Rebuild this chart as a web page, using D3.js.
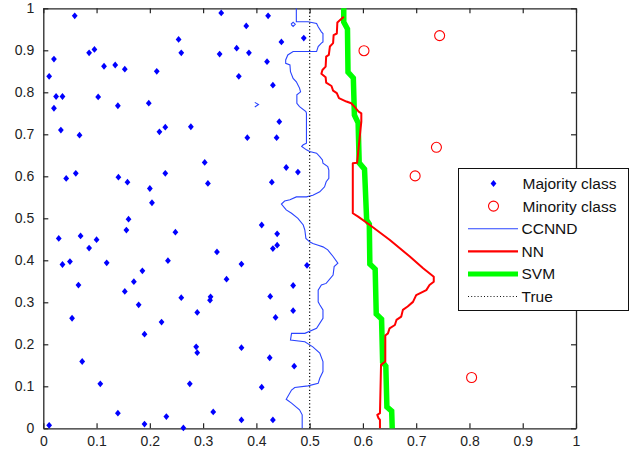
<!DOCTYPE html>
<html>
<head>
<meta charset="utf-8">
<script src="https://cdn.jsdelivr.net/npm/d3@7"></script>
<style>
  body { margin: 0; background: #fff; }
  svg { display: block; font-family: "Liberation Sans", Arial, sans-serif; }
</style>
</head>
<body>
<svg id="chart" width="644" height="451"></svg>
<script>
// majority class samples [x, y]
const majority = [
  [0.011, 0.838], [0.020, 0.879], [0.059, 0.982], [0.024, 0.790], [0.036, 0.790],
  [0.020, 0.762], [0.033, 0.710], [0.068, 0.698], [0.043, 0.595], [0.061, 0.607],
  [0.086, 0.894], [0.096, 0.902], [0.103, 0.789], [0.114, 0.862], [0.135, 0.865],
  [0.153, 0.855], [0.140, 0.768], [0.141, 0.598], [0.158, 0.586], [0.160, 0.498],
  [0.198, 0.774], [0.213, 0.850], [0.218, 0.706], [0.229, 0.717], [0.229, 0.607],
  [0.200, 0.571], [0.204, 0.537], [0.254, 0.926], [0.259, 0.894], [0.277, 0.718],
  [0.303, 0.633], [0.309, 0.583], [0.331, 0.891], [0.334, 0.989], [0.029, 0.452],
  [0.036, 0.390], [0.050, 0.397], [0.070, 0.458], [0.086, 0.429], [0.100, 0.449],
  [0.119, 0.394], [0.066, 0.341], [0.054, 0.262], [0.073, 0.159], [0.107, 0.106],
  [0.011, 0.007], [0.156, 0.472], [0.153, 0.326], [0.170, 0.349], [0.186, 0.375],
  [0.179, 0.294], [0.190, 0.224], [0.140, 0.036], [0.190, 0.010], [0.234, 0.399],
  [0.248, 0.467], [0.222, 0.253], [0.259, 0.311], [0.231, 0.028], [0.263, 0.001],
  [0.275, 0.106], [0.289, 0.276], [0.287, 0.194], [0.289, 0.180], [0.313, 0.305],
  [0.314, 0.313], [0.326, 0.420], [0.319, 0.039], [0.422, 0.982], [0.381, 0.958],
  [0.363, 0.905], [0.386, 0.894], [0.447, 0.920], [0.489, 0.929], [0.420, 0.873],
  [0.367, 0.838], [0.431, 0.817], [0.443, 0.730], [0.383, 0.692], [0.438, 0.692],
  [0.456, 0.621], [0.478, 0.610], [0.429, 0.586], [0.410, 0.484], [0.439, 0.463],
  [0.431, 0.428], [0.439, 0.436], [0.372, 0.391], [0.495, 0.388], [0.344, 0.355],
  [0.469, 0.340], [0.426, 0.314], [0.469, 0.280], [0.436, 0.264], [0.372, 0.192],
  [0.425, 0.168], [0.471, 0.148], [0.410, 0.098], [0.372, 0.020], [0.431, 0.020]
];

// minority class samples [x, y]
const minority = [
  [0.744, 0.935], [0.602, 0.899], [0.738, 0.669], [0.698, 0.601], [0.804, 0.121]
];

// CCNND decision boundary (top to bottom)
const ccnnd = [
  [0.475, 1.000], [0.475, 0.968], [0.497, 0.968], [0.513, 0.964], [0.516, 0.956],
  [0.522, 0.944], [0.525, 0.940], [0.525, 0.920], [0.522, 0.917], [0.516, 0.909],
  [0.513, 0.897], [0.469, 0.897], [0.459, 0.889], [0.455, 0.877], [0.455, 0.869],
  [0.463, 0.865], [0.464, 0.849], [0.469, 0.833], [0.475, 0.825], [0.481, 0.810],
  [0.483, 0.801], [0.476, 0.794], [0.476, 0.774], [0.481, 0.766], [0.493, 0.754],
  [0.494, 0.750], [0.494, 0.679], [0.488, 0.675], [0.485, 0.671], [0.494, 0.663],
  [0.500, 0.659], [0.513, 0.655], [0.519, 0.647], [0.524, 0.639], [0.525, 0.631],
  [0.534, 0.623], [0.536, 0.615], [0.536, 0.595], [0.531, 0.587], [0.528, 0.575],
  [0.519, 0.563], [0.506, 0.555], [0.494, 0.551], [0.475, 0.551], [0.463, 0.544],
  [0.453, 0.541], [0.447, 0.534], [0.456, 0.520], [0.466, 0.512], [0.478, 0.500],
  [0.488, 0.484], [0.491, 0.472], [0.493, 0.452], [0.500, 0.444], [0.506, 0.440],
  [0.516, 0.436], [0.525, 0.432], [0.534, 0.425], [0.544, 0.409], [0.553, 0.393],
  [0.546, 0.385], [0.544, 0.365], [0.531, 0.345], [0.522, 0.341], [0.516, 0.329],
  [0.516, 0.301], [0.519, 0.294], [0.525, 0.282], [0.525, 0.262], [0.513, 0.238],
  [0.491, 0.226], [0.466, 0.226], [0.464, 0.210], [0.491, 0.206], [0.506, 0.194],
  [0.519, 0.179], [0.525, 0.159], [0.525, 0.135], [0.519, 0.119], [0.516, 0.107],
  [0.497, 0.101], [0.472, 0.097], [0.466, 0.091], [0.456, 0.069], [0.466, 0.060],
  [0.481, 0.044], [0.486, 0.032], [0.486, 0.000]
];
// small detached pieces of the CCNND contour
const ccnndLoop = [[0.465, 0.962], [0.469, 0.967], [0.473, 0.962], [0.469, 0.957], [0.465, 0.962]];
const ccnndTick = [[0.397, 0.776], [0.404, 0.771], [0.397, 0.765]];

// NN decision boundary
const nn = [
  [0.564, 0.980], [0.552, 0.966], [0.551, 0.940], [0.545, 0.936], [0.544, 0.917],
  [0.538, 0.909], [0.536, 0.889], [0.531, 0.885], [0.530, 0.861], [0.524, 0.853],
  [0.522, 0.844], [0.530, 0.836], [0.531, 0.823], [0.541, 0.815], [0.544, 0.804],
  [0.551, 0.798], [0.555, 0.786], [0.569, 0.778], [0.578, 0.774], [0.584, 0.766],
  [0.592, 0.754], [0.597, 0.750], [0.597, 0.730], [0.589, 0.632], [0.581, 0.631],
  [0.581, 0.512], [0.591, 0.504], [0.613, 0.484], [0.650, 0.449], [0.688, 0.409],
  [0.713, 0.381], [0.733, 0.361], [0.733, 0.349], [0.725, 0.341], [0.719, 0.329],
  [0.700, 0.317], [0.694, 0.301], [0.684, 0.290], [0.675, 0.282], [0.672, 0.266],
  [0.663, 0.258], [0.660, 0.246], [0.650, 0.238], [0.647, 0.226], [0.642, 0.221],
  [0.642, 0.159], [0.634, 0.151], [0.632, 0.036], [0.627, 0.032], [0.629, 0.025],
  [0.632, 0.020], [0.632, 0.000]
];

// SVM decision boundary
const svm = [
  [0.564, 1.000], [0.564, 0.967], [0.571, 0.951], [0.572, 0.848], [0.582, 0.834],
  [0.584, 0.746], [0.591, 0.727], [0.593, 0.632], [0.603, 0.617], [0.607, 0.496],
  [0.612, 0.486], [0.613, 0.391], [0.623, 0.379], [0.625, 0.272], [0.635, 0.260],
  [0.637, 0.158], [0.643, 0.148], [0.645, 0.051], [0.654, 0.041], [0.655, 0.000]
];

// true boundary x = 0.5
const trueLine = [[0.5, 0], [0.5, 1]];

const xTicks = [0, 0.1, 0.2, 0.3, 0.4, 0.5, 0.6, 0.7, 0.8, 0.9, 1];
const yTicks = [0, 0.1, 0.2, 0.3, 0.4, 0.5, 0.6, 0.7, 0.8, 0.9, 1];
const legendLabels = ['Majority class', 'Minority class', 'CCNND', 'NN', 'SVM', 'True'];

const box = { left: 43.3, right: 576, top: 8.3, bottom: 428.3 };
const svg = d3.select('#chart');
const x = d3.scaleLinear().domain([0, 1]).range([box.left, box.right]);
const y = d3.scaleLinear().domain([0, 1]).range([box.bottom, box.top]);
const line = d3.line().x(d => x(d[0])).y(d => y(d[1]));
const fmt = d => (d === 0 || d === 1 ? String(d) : d3.format('.1f')(d));
const diamond = 'M0,-3.4L2.9,0L0,3.4L-2.9,0Z';

svg.append('rect').attr('width', 644).attr('height', 451).attr('fill', '#fff');

// axes with inward ticks on all four sides
const axisColor = '#262626';
const axes = [
  { ax: d3.axisBottom(x).tickValues(xTicks), at: `translate(0,${box.bottom})`, pad: 8 },
  { ax: d3.axisTop(x).tickValues(xTicks), at: `translate(0,${box.top})`, pad: 0 },
  { ax: d3.axisLeft(y).tickValues(yTicks), at: `translate(${box.left},0)`, pad: 9 },
  { ax: d3.axisRight(y).tickValues(yTicks), at: `translate(${box.right},0)`, pad: 0 }
];
axes.forEach(a => {
  const g = svg.append('g')
    .attr('transform', a.at)
    .call(a.ax.tickSizeInner(-5).tickSizeOuter(0).tickPadding(a.pad).tickFormat(a.pad ? fmt : ''));
  g.select('.domain').attr('stroke', axisColor).attr('stroke-width', 1.3);
  g.selectAll('.tick line').attr('stroke', axisColor).attr('stroke-width', 1.2);
  g.selectAll('.tick text').attr('fill', '#222').style('font-size', '14px');
});

// majority points
svg.append('g').selectAll('path')
  .data(majority)
  .join('path')
  .attr('d', diamond)
  .attr('transform', d => `translate(${x(d[0])},${y(d[1])})`)
  .attr('fill', '#0000ff');

// minority points
svg.append('g').selectAll('circle')
  .data(minority)
  .join('circle')
  .attr('cx', d => x(d[0]))
  .attr('cy', d => y(d[1]))
  .attr('r', 5)
  .attr('fill', 'none')
  .attr('stroke', '#ff0000')
  .attr('stroke-width', 1.1);

// boundaries
const curves = svg.append('g').attr('fill', 'none');
[ccnnd, ccnndLoop, ccnndTick].forEach(c => {
  curves.append('path').attr('d', line(c)).attr('stroke', '#2a44ff').attr('stroke-width', 1.1);
});
curves.append('path').attr('d', line(trueLine))
  .attr('stroke', '#111').attr('stroke-width', 1.2).attr('stroke-dasharray', '1.2,2.2');
curves.append('path').attr('d', line(svm))
  .attr('stroke', '#00ff00').attr('stroke-width', 5.5).attr('stroke-linejoin', 'miter');
curves.append('path').attr('d', line(nn))
  .attr('stroke', '#ff0000').attr('stroke-width', 2).attr('stroke-linejoin', 'round');

// legend (drawn on top of the right axis)
const legend = svg.append('g').attr('transform', 'translate(458.5,168.5)');
legend.append('rect').attr('width', 170).attr('height', 142)
  .attr('fill', '#fff').attr('stroke', '#111').attr('stroke-width', 1);
const rowY = i => 15 + i * 22.6;
const item = legend.selectAll('g.item')
  .data(legendLabels)
  .join('g')
  .attr('class', 'item')
  .attr('transform', (d, i) => `translate(0,${rowY(i)})`);
item.append('text')
  .attr('x', (d, i) => (i < 2 ? 64 : 63))
  .attr('dy', '0.36em')
  .attr('fill', '#111')
  .style('font-size', '15.5px')
  .text(d => d);
legend.append('path').attr('d', diamond).attr('transform', `translate(35,${rowY(0)})`).attr('fill', '#0000ff');
legend.append('circle').attr('cx', 35).attr('cy', rowY(1)).attr('r', 5)
  .attr('fill', 'none').attr('stroke', '#ff0000').attr('stroke-width', 1.1);
const sample = [
  { i: 2, color: '#2a44ff', w: 1.1, dash: null },
  { i: 3, color: '#ff0000', w: 2.2, dash: null },
  { i: 4, color: '#00ff00', w: 5, dash: null },
  { i: 5, color: '#111', w: 1, dash: '1,2.2' }
];
sample.forEach(s => {
  legend.append('line')
    .attr('x1', 9.5).attr('x2', 59.5)
    .attr('y1', rowY(s.i)).attr('y2', rowY(s.i))
    .attr('stroke', s.color).attr('stroke-width', s.w)
    .attr('stroke-dasharray', s.dash);
});
</script>
</body>
</html>
